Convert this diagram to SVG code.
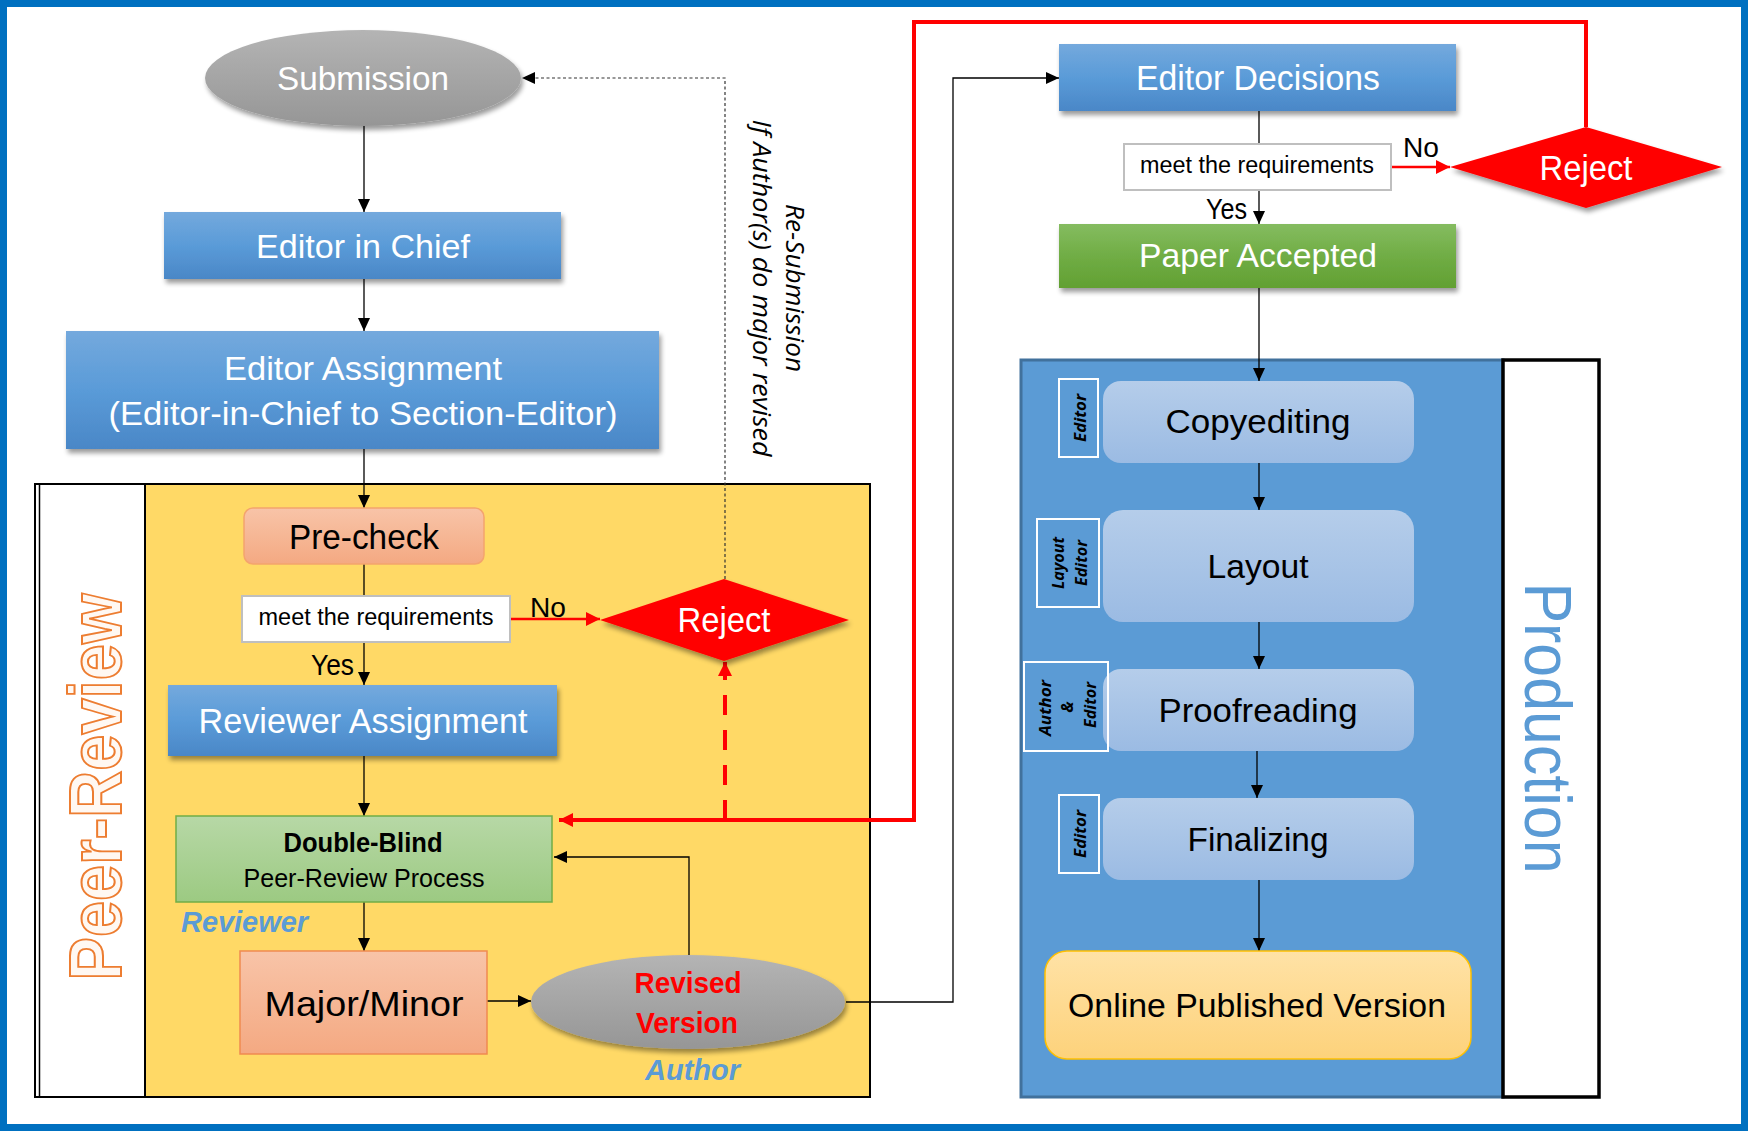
<svg xmlns="http://www.w3.org/2000/svg" width="1748" height="1131" viewBox="0 0 1748 1131">
<style>
.t{font-family:"Liberation Sans",Arial,sans-serif;}
.w{fill:#fff;}
.k{fill:#000;}
.it{font-family:"Open Sans","Liberation Sans",sans-serif;font-style:italic;}
.tag{font-family:"Open Sans","Liberation Sans",sans-serif;font-style:italic;font-weight:bold;font-size:16px;fill:#000;}
.lbl{font-family:"Liberation Sans",Arial,sans-serif;font-style:italic;font-weight:bold;font-size:30px;fill:#5B9BD5;}
.c{fill:none;stroke:#000;stroke-width:1.3;}
.r{fill:none;stroke:#FF0000;stroke-width:4;}
.tagbox{fill:none;stroke:#fff;stroke-width:2;}
</style>
<defs>
<linearGradient id="gBlue" x1="0" y1="0" x2="0" y2="1"><stop offset="0" stop-color="#74A9DD"/><stop offset="0.5" stop-color="#5A9BD8"/><stop offset="1" stop-color="#4A87C7"/></linearGradient>
<linearGradient id="gGreen" x1="0" y1="0" x2="0" y2="1"><stop offset="0" stop-color="#85BC60"/><stop offset="0.5" stop-color="#70AD45"/><stop offset="1" stop-color="#62A032"/></linearGradient>
<linearGradient id="gSalmon" x1="0" y1="0" x2="0" y2="1"><stop offset="0" stop-color="#F8C4A8"/><stop offset="1" stop-color="#F4A982"/></linearGradient>
<linearGradient id="gDB" x1="0" y1="0" x2="0" y2="1"><stop offset="0" stop-color="#B7D8A6"/><stop offset="1" stop-color="#9CCA82"/></linearGradient>
<linearGradient id="gGray" x1="0" y1="0" x2="0" y2="1"><stop offset="0" stop-color="#B4B4B4"/><stop offset="1" stop-color="#969696"/></linearGradient>
<linearGradient id="gProc" x1="0" y1="0" x2="0" y2="1"><stop offset="0" stop-color="#B5CDEA"/><stop offset="1" stop-color="#9BBBE3"/></linearGradient>
<linearGradient id="gOnline" x1="0" y1="0" x2="0" y2="1"><stop offset="0" stop-color="#FFE2A6"/><stop offset="1" stop-color="#FDD27B"/></linearGradient>
<filter id="sh" x="-10%" y="-10%" width="130%" height="150%">
<feGaussianBlur in="SourceAlpha" stdDeviation="2.5"/>
<feOffset dx="2" dy="4" result="o"/>
<feComponentTransfer><feFuncA type="linear" slope="0.4"/></feComponentTransfer>
<feMerge><feMergeNode/><feMergeNode in="SourceGraphic"/></feMerge>
</filter>
<marker id="aK" markerUnits="userSpaceOnUse" markerWidth="13" markerHeight="12" refX="13" refY="6" orient="auto"><path d="M0,0 L13,6 L0,12 z" fill="#000"/></marker>
<marker id="aR" markerUnits="userSpaceOnUse" markerWidth="14" markerHeight="14" refX="14" refY="7" orient="auto"><path d="M0,0 L14,7 L0,14 z" fill="#FF0000"/></marker>
</defs>

<rect x="3.5" y="3.5" width="1741" height="1124" fill="#fff" stroke="#0070C0" stroke-width="7"/>

<!-- Peer-review panel -->
<g id="peer-review-panel">
<rect x="35" y="484" width="835" height="613" fill="#fff" stroke="#000" stroke-width="2"/>
<rect x="145" y="484" width="725" height="613" fill="#FFD966" stroke="#000" stroke-width="2"/>
<line x1="39.5" y1="484" x2="39.5" y2="1097" stroke="#000" stroke-width="1.5"/>
<text class="t" transform="translate(121,787) rotate(-90)" text-anchor="middle" font-size="75" font-weight="bold" textLength="387" lengthAdjust="spacingAndGlyphs" fill="#FFF8F2" stroke="#ED7D31" stroke-width="2">Peer-Review</text>
</g>

<!-- Production panel -->
<g id="production-panel">
<rect x="1021" y="360" width="482" height="737" fill="#5B9BD5" stroke="#41719C" stroke-width="3"/>
<rect x="1503" y="360" width="96" height="737" fill="#fff" stroke="#000" stroke-width="3.5"/>
<text class="t" transform="translate(1525,728) rotate(90)" text-anchor="middle" font-size="66" textLength="291" lengthAdjust="spacingAndGlyphs" fill="#5B9BD5">Production</text>
</g>

<!-- connectors -->
<g id="connectors">
<path class="c" d="M364,126 V212" marker-end="url(#aK)"/>
<path class="c" d="M364,279 V331" marker-end="url(#aK)"/>
<path class="c" d="M364,449 V508" marker-end="url(#aK)"/>
<path class="c" d="M364,564 V596"/>
<path class="c" d="M364,642 V685" marker-end="url(#aK)"/>
<path d="M510,619 H600" fill="none" stroke="#FF0000" stroke-width="2.5" marker-end="url(#aR)"/>
<path class="c" d="M364,756 V816" marker-end="url(#aK)"/>
<path class="c" d="M364,902 V951" marker-end="url(#aK)"/>
<path class="c" d="M487,1001 H531" marker-end="url(#aK)"/>
<path class="c" d="M689,955 V857 H554" marker-end="url(#aK)"/>
<path class="c" d="M846,1002 H953 V78 H1059" marker-end="url(#aK)"/>
<path class="r" d="M1586,127 V22 H914 V820 H559" marker-end="url(#aR)"/>
<path class="r" d="M725,820 V662" stroke-dasharray="20,15" marker-end="url(#aR)"/>
<path d="M725,579 V78 H522" fill="none" stroke="#333" stroke-width="1.2" stroke-dasharray="3,2.5" marker-end="url(#aK)"/>
<path class="c" d="M1259,111 V145"/>
<path class="c" d="M1259,190 V224" marker-end="url(#aK)"/>
<path d="M1391,167 H1450" fill="none" stroke="#FF0000" stroke-width="2.5" marker-end="url(#aR)"/>
<path class="c" d="M1259,288 V381" marker-end="url(#aK)"/>
<path class="c" d="M1259,463 V510" marker-end="url(#aK)"/>
<path class="c" d="M1259,622 V669" marker-end="url(#aK)"/>
<path class="c" d="M1257,751 V798" marker-end="url(#aK)"/>
<path class="c" d="M1259,880 V951" marker-end="url(#aK)"/>
</g>

<g id="resubmission-label">
<text class="it" transform="translate(786,288) rotate(90)" text-anchor="middle" font-size="25" textLength="168" lengthAdjust="spacingAndGlyphs">Re-Submission</text>
<text class="it" transform="translate(753,288) rotate(90)" text-anchor="middle" font-size="25" textLength="337" lengthAdjust="spacingAndGlyphs">If Author(s) do major revised</text>
</g>

<g id="submission">
<ellipse cx="363" cy="78" rx="158" ry="48" fill="url(#gGray)" filter="url(#sh)"/>
<text class="t w" x="363" y="90" text-anchor="middle" font-size="33" textLength="172" lengthAdjust="spacingAndGlyphs">Submission</text>
</g>

<g id="editor-in-chief">
<rect x="164" y="212" width="397" height="67" fill="url(#gBlue)" filter="url(#sh)"/>
<text class="t w" x="363" y="258" text-anchor="middle" font-size="34" textLength="214" lengthAdjust="spacingAndGlyphs">Editor in Chief</text>
</g>

<g id="editor-assignment">
<rect x="66" y="331" width="593" height="118" fill="url(#gBlue)" filter="url(#sh)"/>
<text class="t w" x="363" y="380" text-anchor="middle" font-size="34" textLength="278" lengthAdjust="spacingAndGlyphs">Editor Assignment</text>
<text class="t w" x="363" y="425" text-anchor="middle" font-size="34" textLength="509" lengthAdjust="spacingAndGlyphs">(Editor-in-Chief to Section-Editor)</text>
</g>

<g id="pre-check">
<rect x="244" y="508" width="240" height="56" rx="9" fill="url(#gSalmon)" stroke="#F4A46E" stroke-width="1.5"/>
<text class="t k" x="364" y="549" text-anchor="middle" font-size="35" textLength="150" lengthAdjust="spacingAndGlyphs">Pre-check</text>
</g>

<g id="condition-1">
<rect x="242" y="596" width="268" height="46" fill="#fff" stroke="#BFBFBF" stroke-width="2"/>
<text class="t k" x="376" y="625" text-anchor="middle" font-size="23" textLength="235" lengthAdjust="spacingAndGlyphs">meet the requirements</text>
<text class="t k" x="530" y="617" font-size="28" textLength="36" lengthAdjust="spacingAndGlyphs">No</text>
<text class="t k" x="311" y="675" font-size="30" textLength="43" lengthAdjust="spacingAndGlyphs">Yes</text>
</g>

<g id="reject-1">
<polygon points="724,579 849,620 724,661 600,620" fill="#FF0000" filter="url(#sh)"/>
<text class="t w" x="724" y="632" text-anchor="middle" font-size="35" textLength="93" lengthAdjust="spacingAndGlyphs">Reject</text>
</g>

<g id="reviewer-assignment">
<rect x="168" y="685" width="389" height="71" fill="url(#gBlue)" filter="url(#sh)"/>
<text class="t w" x="363" y="733" text-anchor="middle" font-size="35" textLength="329" lengthAdjust="spacingAndGlyphs">Reviewer Assignment</text>
</g>

<g id="double-blind">
<rect x="176" y="816" width="376" height="86" fill="url(#gDB)" stroke="#70AD47" stroke-width="1.5"/>
<text class="t k" x="363" y="852" text-anchor="middle" font-size="27" font-weight="bold" textLength="159" lengthAdjust="spacingAndGlyphs">Double-Blind</text>
<text class="t k" x="364" y="887" text-anchor="middle" font-size="25" textLength="241" lengthAdjust="spacingAndGlyphs">Peer-Review  Process</text>
<text class="lbl" x="181" y="932" textLength="127" lengthAdjust="spacingAndGlyphs">Reviewer</text>
</g>

<g id="major-minor">
<rect x="240" y="951" width="247" height="103" fill="url(#gSalmon)" stroke="#F08A50" stroke-width="1.5"/>
<text class="t k" x="364" y="1016" text-anchor="middle" font-size="35" textLength="199" lengthAdjust="spacingAndGlyphs">Major/Minor</text>
</g>

<g id="revised-version">
<ellipse cx="688" cy="1002" rx="157" ry="47" fill="url(#gGray)" filter="url(#sh)"/>
<text class="t" x="688" y="993" text-anchor="middle" font-size="30" font-weight="bold" fill="#FF0000" textLength="107" lengthAdjust="spacingAndGlyphs">Revised</text>
<text class="t" x="687" y="1033" text-anchor="middle" font-size="30" font-weight="bold" fill="#FF0000" textLength="102" lengthAdjust="spacingAndGlyphs">Version</text>
<text class="lbl" x="645" y="1080" textLength="95" lengthAdjust="spacingAndGlyphs">Author</text>
</g>

<g id="editor-decisions">
<rect x="1059" y="44" width="397" height="67" fill="url(#gBlue)" filter="url(#sh)"/>
<text class="t w" x="1258" y="90" text-anchor="middle" font-size="35" textLength="244" lengthAdjust="spacingAndGlyphs">Editor Decisions</text>
</g>

<g id="condition-2">
<rect x="1124" y="144" width="267" height="46" fill="#fff" stroke="#BFBFBF" stroke-width="2"/>
<text class="t k" x="1257" y="173" text-anchor="middle" font-size="23" textLength="234" lengthAdjust="spacingAndGlyphs">meet the requirements</text>
<text class="t k" x="1403" y="157" font-size="28" textLength="36" lengthAdjust="spacingAndGlyphs">No</text>
<text class="t k" x="1206" y="219" font-size="30" textLength="41" lengthAdjust="spacingAndGlyphs">Yes</text>
</g>

<g id="reject-2">
<polygon points="1586,127 1722,167 1586,208 1450,167" fill="#FF0000" filter="url(#sh)"/>
<text class="t w" x="1586" y="180" text-anchor="middle" font-size="35" textLength="93" lengthAdjust="spacingAndGlyphs">Reject</text>
</g>

<g id="paper-accepted">
<rect x="1059" y="224" width="397" height="64" fill="url(#gGreen)" filter="url(#sh)"/>
<text class="t w" x="1258" y="267" text-anchor="middle" font-size="33" textLength="238" lengthAdjust="spacingAndGlyphs">Paper Accepted</text>
</g>

<g id="copyediting">
<rect x="1059" y="379" width="39" height="78" class="tagbox"/>
<text class="tag" transform="translate(1086,418) rotate(-90)" text-anchor="middle" textLength="48" lengthAdjust="spacingAndGlyphs">Editor</text>
<rect x="1103" y="381" width="311" height="82" rx="18" fill="url(#gProc)"/>
<text class="t k" x="1258" y="433" text-anchor="middle" font-size="34" textLength="185" lengthAdjust="spacingAndGlyphs">Copyediting</text>
</g>

<g id="layout">
<rect x="1037" y="519" width="62" height="88" class="tagbox"/>
<text class="tag" transform="translate(1064,563) rotate(-90)" text-anchor="middle" textLength="52" lengthAdjust="spacingAndGlyphs">Layout</text>
<text class="tag" transform="translate(1087,563) rotate(-90)" text-anchor="middle" textLength="46" lengthAdjust="spacingAndGlyphs">Editor</text>
<rect x="1103" y="510" width="311" height="112" rx="20" fill="url(#gProc)"/>
<text class="t k" x="1258" y="578" text-anchor="middle" font-size="34" textLength="101" lengthAdjust="spacingAndGlyphs">Layout</text>
</g>

<g id="proofreading">
<rect x="1103" y="669" width="311" height="82" rx="18" fill="url(#gProc)"/>
<rect x="1024" y="662" width="84" height="89" class="tagbox"/>
<text class="tag" transform="translate(1051,708) rotate(-90)" text-anchor="middle" textLength="56" lengthAdjust="spacingAndGlyphs">Author</text>
<text class="tag" transform="translate(1073,707) rotate(-90)" text-anchor="middle">&amp;</text>
<text class="tag" transform="translate(1096,705) rotate(-90)" text-anchor="middle" textLength="46" lengthAdjust="spacingAndGlyphs">Editor</text>
<text class="t k" x="1258" y="722" text-anchor="middle" font-size="34" textLength="199" lengthAdjust="spacingAndGlyphs">Proofreading</text>
</g>

<g id="finalizing">
<rect x="1059" y="795" width="40" height="78" class="tagbox"/>
<text class="tag" transform="translate(1086,834) rotate(-90)" text-anchor="middle" textLength="48" lengthAdjust="spacingAndGlyphs">Editor</text>
<rect x="1103" y="798" width="311" height="82" rx="18" fill="url(#gProc)"/>
<text class="t k" x="1258" y="851" text-anchor="middle" font-size="34" textLength="141" lengthAdjust="spacingAndGlyphs">Finalizing</text>
</g>

<g id="online-published">
<rect x="1045" y="951" width="426" height="108" rx="22" fill="url(#gOnline)" stroke="#FFC000" stroke-width="1.5"/>
<text class="t k" x="1257" y="1017" text-anchor="middle" font-size="34" textLength="378" lengthAdjust="spacingAndGlyphs">Online Published Version</text>
</g>
</svg>
